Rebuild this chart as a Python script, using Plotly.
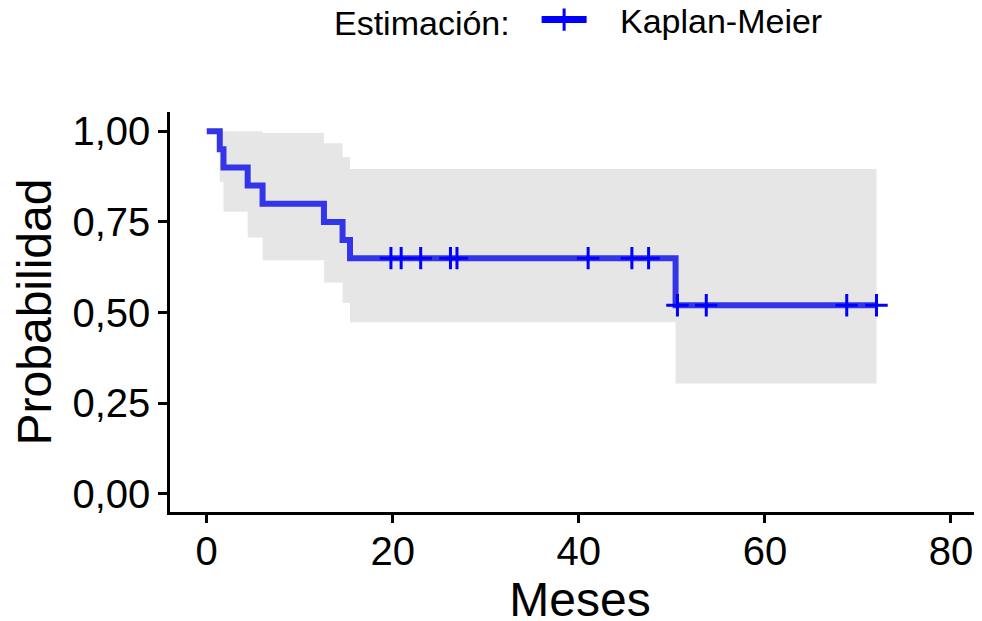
import plotly.graph_objects as go

# Kaplan-Meier estimate
step_time = [0, 1.4, 1.8, 4.4, 6.0, 12.6, 14.6, 15.4, 50.4, 72.0]
surv = [1.00, 0.95, 0.90, 0.85, 0.80, 0.75, 0.70, 0.65, 0.52, 0.52]
ci_upper = [1.00, 1.00, 1.00, 1.00, 0.995, 0.967, 0.929, 0.896, 0.896, 0.896]
ci_lower = [1.00, 0.861, 0.778, 0.707, 0.644, 0.583, 0.527, 0.473, 0.304, 0.304]

censor_time = [19.8, 20.9, 23.0, 26.2, 26.9, 41.0, 45.7, 47.5, 50.6, 53.7, 68.8, 72.0]
censor_surv = [0.65, 0.65, 0.65, 0.65, 0.65, 0.65, 0.65, 0.65, 0.52, 0.52, 0.52, 0.52]

x_ticks = [0, 20, 40, 60, 80]
x_ticklabels = ["0", "20", "40", "60", "80"]
y_ticks = [0, 0.25, 0.5, 0.75, 1.0]
y_ticklabels = ["0,00", "0,25", "0,50", "0,75", "1,00"]

series_name = "Kaplan-Meier"
legend_title = "Estimación:"
x_title = "Meses"
y_title = "Probabilidad"

NBSP = "\u00a0"
FONT = "Liberation Sans, Arial, Helvetica, sans-serif"
LINE_COLOR = "rgb(52,52,232)"
MARK_COLOR = "rgb(0,0,255)"
BAND_COLOR = "rgb(230,230,230)"

fig = go.Figure()

fig.add_trace(go.Scatter(
    x=step_time, y=ci_lower, mode="lines", line=dict(width=0, shape="hv"),
    showlegend=False, hoverinfo="skip"))
fig.add_trace(go.Scatter(
    x=step_time, y=ci_upper, mode="lines", line=dict(width=0, shape="hv"),
    fill="tonexty", fillcolor=BAND_COLOR, showlegend=False, hoverinfo="skip"))

fig.add_trace(go.Scatter(
    x=step_time, y=surv, mode="lines",
    line=dict(color=LINE_COLOR, width=6, shape="hv"),
    showlegend=False))

fig.add_trace(go.Scatter(
    x=censor_time, y=censor_surv, mode="markers",
    marker=dict(symbol="cross-thin", size=16, line=dict(color=MARK_COLOR, width=3)),
    showlegend=False))

# legend entry
fig.add_trace(go.Scatter(
    x=[None], y=[None], mode="lines+markers", name=NBSP * 3 + series_name,
    line=dict(color=MARK_COLOR, width=7),
    marker=dict(symbol="cross-thin", size=16, line=dict(color=MARK_COLOR, width=3)),
    showlegend=True))

# the page body adds an 8px offset; margins compensate for it
fig.update_layout(
    width=982, height=621,
    margin=dict(l=162, r=0, t=104, b=117, autoexpand=False),
    paper_bgcolor="white", plot_bgcolor="white",
    font=dict(family=FONT, color="black"),
    showlegend=True,
    legend=dict(
        orientation="h", x=0.5, xanchor="center", y=1.23, yanchor="middle",
        title=dict(text=legend_title + NBSP * 2, side="left", font=dict(size=34)),
        font=dict(size=34), bgcolor="rgba(0,0,0,0)", itemwidth=45,
    ),
    xaxis=dict(
        range=[-3.95, 84.2], tickvals=x_ticks, ticktext=x_ticklabels,
        showline=True, linecolor="black", linewidth=2.5,
        ticks="outside", ticklen=8, tickwidth=2.5, tickcolor="black",
        showgrid=False, zeroline=False, automargin=False,
        ticklabelstandoff=-6,
        tickfont=dict(size=40, color="black"),
        title=dict(text=x_title, font=dict(size=48), standoff=1),
    ),
    yaxis=dict(
        range=[-0.05, 1.053], tickvals=y_ticks, ticktext=y_ticklabels,
        showline=True, linecolor="black", linewidth=2.5,
        ticks="outside", ticklen=9, tickwidth=2.5, tickcolor="black",
        showgrid=False, zeroline=False, automargin=False,
        tickfont=dict(size=40, color="black"),
        title=dict(text=y_title, font=dict(size=48), standoff=12),
    ),
)

fig.write_html("out.html")
